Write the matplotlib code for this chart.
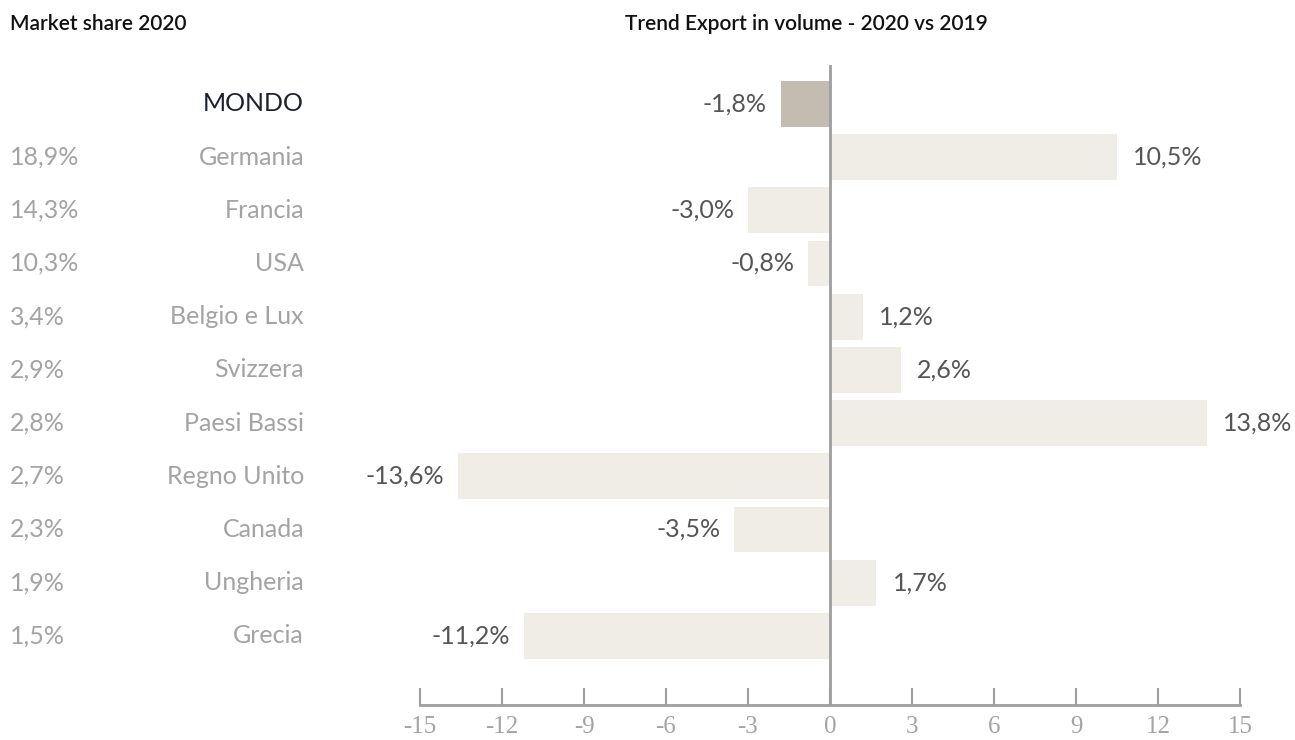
import matplotlib
matplotlib.use("Agg")
import matplotlib.pyplot as plt

countries = ["MONDO", "Germania", "Francia", "USA", "Belgio e Lux", "Svizzera",
             "Paesi Bassi", "Regno Unito", "Canada", "Ungheria", "Grecia"]
market_share = ["", "18,9%", "14,3%", "10,3%", "3,4%", "2,9%", "2,8%", "2,7%", "2,3%", "1,9%", "1,5%"]
trend = [-1.8, 10.5, -3.0, -0.8, 1.2, 2.6, 13.8, -13.6, -3.5, 1.7, -11.2]
xticks = [-15, -12, -9, -6, -3, 0, 3, 6, 9, 12, 15]

W, H = 1295, 740
fig = plt.figure(figsize=(W / 100, H / 100), dpi=100)
ax = fig.add_axes([420 / W, 1 - 705 / H, 820 / W, 640 / H])

FONT = "Lato"
grey = "#a3a3a3"
dark = "#1c2030"
valc = "#555555"
FS = 18

ypos = list(range(len(countries)))
colors = ["#c4bcb0"] + ["#f0ede6"] * (len(countries) - 1)
ax.barh(ypos, trend, height=0.86, color=colors, zorder=1)
ax.axvline(0, color="#9e9e9e", lw=2, zorder=3)

ax.set_xlim(-15, 15)
ax.set_ylim(11.3, -0.733)

for s in ["top", "right", "left"]:
    ax.spines[s].set_visible(False)
ax.spines["bottom"].set_color("#9e9e9e")
ax.spines["bottom"].set_linewidth(2)
ax.set_yticks([])
ax.set_xticks(xticks)
ax.set_xticklabels([str(t) for t in xticks], family="Liberation Serif", fontsize=18, color=grey)
ax.tick_params(axis="x", direction="in", length=12, width=1.5, color="#9e9e9e", pad=8)

# value labels
for y, v in zip(ypos, trend):
    lbl = f"{v:.1f}".replace(".", ",") + "%"
    if v >= 0:
        ax.annotate(lbl, (v, y), xytext=(16, 0), textcoords="offset pixels",
                    ha="left", va="center", fontsize=FS, color=valc, family=FONT)
    else:
        ax.annotate(lbl, (v, y), xytext=(-14, 0), textcoords="offset pixels",
                    ha="right", va="center", fontsize=FS, color=valc, family=FONT)

# left labels
for y, c, m in zip(ypos, countries, market_share):
    yy = ax.transData.transform((0, y))[1] / H
    col = dark if c == "MONDO" else grey
    fig.text(304 / W, yy, c, ha="right", va="center", fontsize=FS, color=col, family=FONT)
    fig.text(10 / W, yy, m, ha="left", va="center", fontsize=FS, color=grey, family=FONT)

fig.text(10 / W, 1 - 24 / H, "Market share 2020", ha="left", va="center",
         fontsize=15, fontweight="semibold", color="#111111", family=FONT)
fig.text(625 / W, 1 - 24 / H, "Trend Export in volume - 2020 vs 2019", ha="left", va="center",
         fontsize=15, fontweight="semibold", color="#111111", family=FONT)

fig.savefig("out.png", dpi=100)
